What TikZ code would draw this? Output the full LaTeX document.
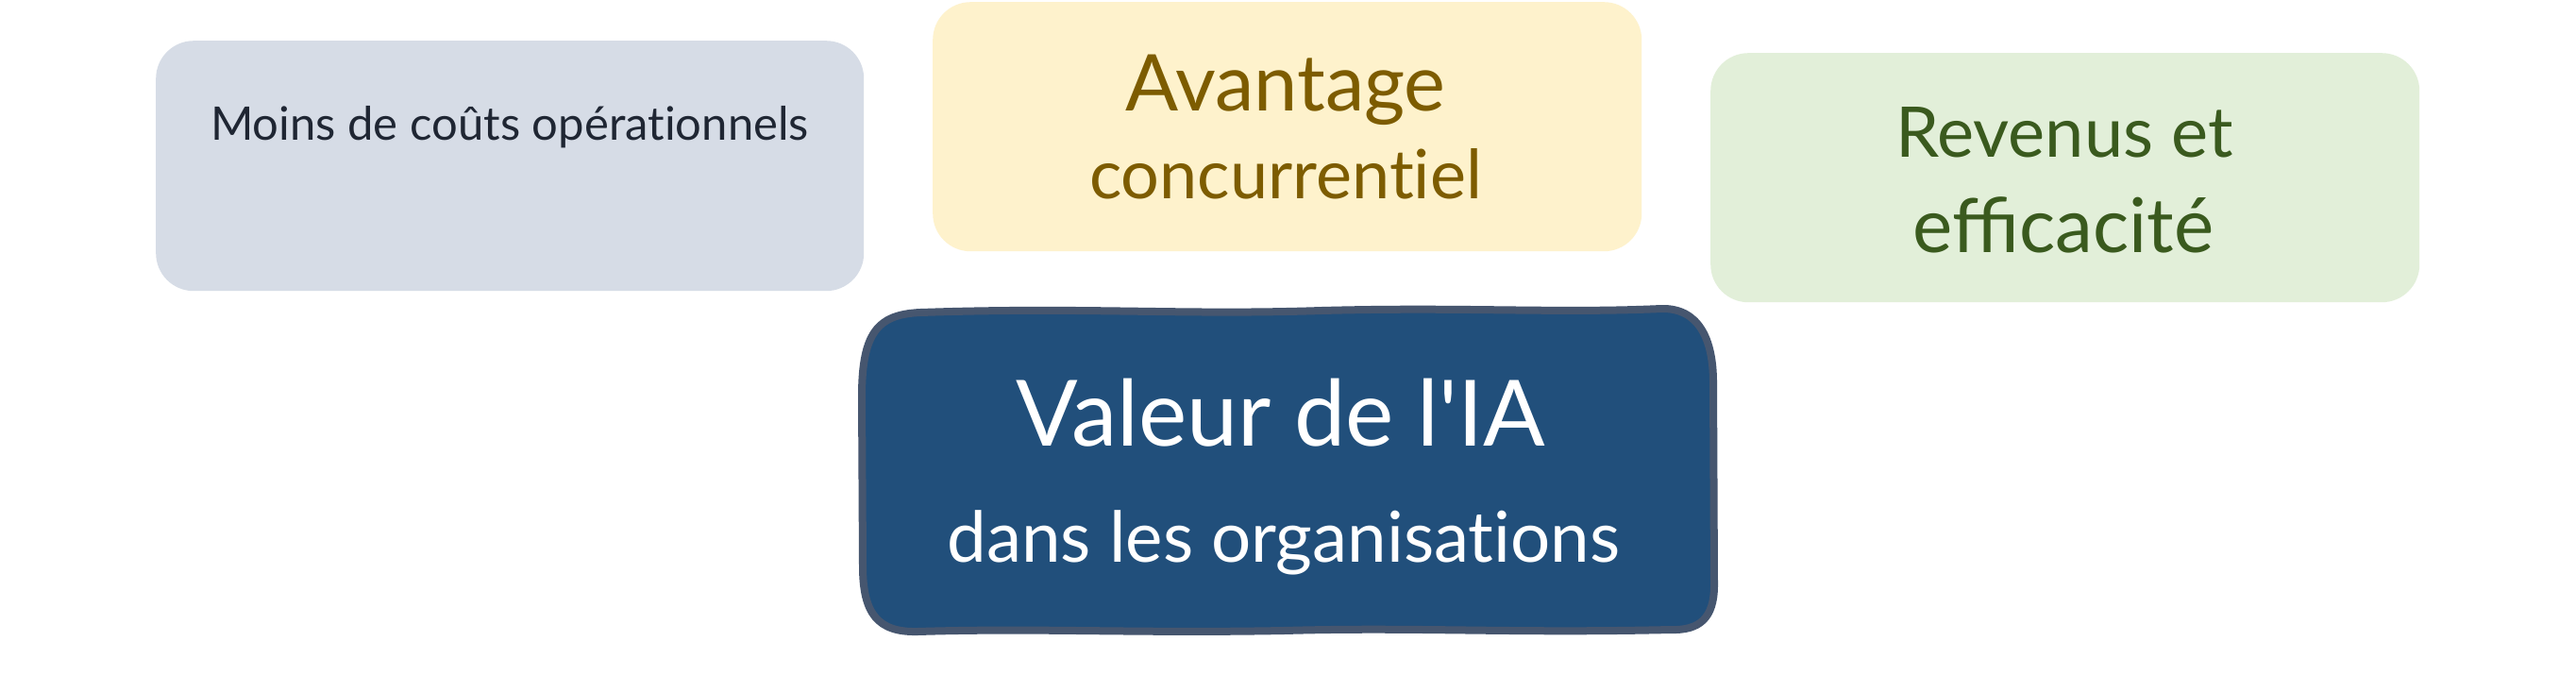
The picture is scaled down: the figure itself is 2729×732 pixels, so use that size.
\documentclass[tikz,border=0pt]{standalone}
\usepackage{fontspec}
\setmainfont{Lato}[Ligatures=TeXOff]
\definecolor{greyfill}{HTML}{D6DCE6}
\definecolor{greytext}{HTML}{1F2633}
\definecolor{yelfill}{HTML}{FEF2CC}
\definecolor{yeltext}{HTML}{7D5C00}
\definecolor{grnfill}{HTML}{E2EFD9}
\definecolor{grntext}{HTML}{3A5A1E}
\definecolor{bluefill}{HTML}{214F7B}
\definecolor{blueedge}{HTML}{46566F}
\tikzset{
  card/.style={rectangle, rounded corners=40pt, inner sep=0pt, anchor=north west},
  lbl/.style={anchor=base, inner sep=0pt},
}
\newcommand{\fs}[1]{\fontsize{#1pt}{#1pt}\selectfont}
\newcommand{\nt}{t\kern0pt i}
\begin{document}
\begin{tikzpicture}[x=1pt,y=-1pt]
\useasboundingbox (0,0) rectangle (2729,732);
\fill[white] (0,0) rectangle (2729,732);
% grey card
\node[card, fill=greyfill, minimum width=750pt, minimum height=265pt] (grey) at (165,43) {};
\node[lbl, text=greytext] (greyt) at (540,148) {\fs{49}Moins de coûts opéra\nt onnels};
% yellow card
\node[card, fill=yelfill, minimum width=751pt, minimum height=264pt] (yel) at (988,2) {};
\node[lbl, text=yeltext] (yel1) at (1362,117) {\fs{83}Avantage};
\node[lbl, text=yeltext] (yel2) at (1362,210) {\fs{72}concurren\nt el};
% green card
\node[card, fill=grnfill, minimum width=751pt, minimum height=264pt] (grn) at (1812,56) {};
\node[lbl, text=grntext] (grn1) at (2187,166) {\fs{74}Revenus et};
\node[lbl, text=grntext] (grn2) at (2186,267) {\fs{80}efficacité};
% blue card (hand-drawn outline)
\filldraw[fill=bluefill, draw=blueedge, line width=8pt, line join=round]
  (914,600) -- (913,420) .. controls (913,352) and (930,333) .. (975,331)
  .. controls (1150,325) and (1250,334) .. (1400,329)
  .. controls (1550,325) and (1650,332) .. (1760,327)
  .. controls (1800,326) and (1815,360) .. (1815,405)
  -- (1816,620) .. controls (1816,655) and (1800,668) .. (1770,667)
  .. controls (1600,671) and (1500,664) .. (1360,668)
  .. controls (1200,671) and (1100,665) .. (972,669)
  .. controls (930,670) and (914,650) .. (914,600) -- cycle;
\node[lbl, text=white] (blue1) at (1357,472) {\fs{97}Valeur de l'IA};
\node[lbl, text=white] (blue2) at (1360,595) {\fs{74.5}dans les organisa\nt ons};
\end{tikzpicture}
\end{document}
